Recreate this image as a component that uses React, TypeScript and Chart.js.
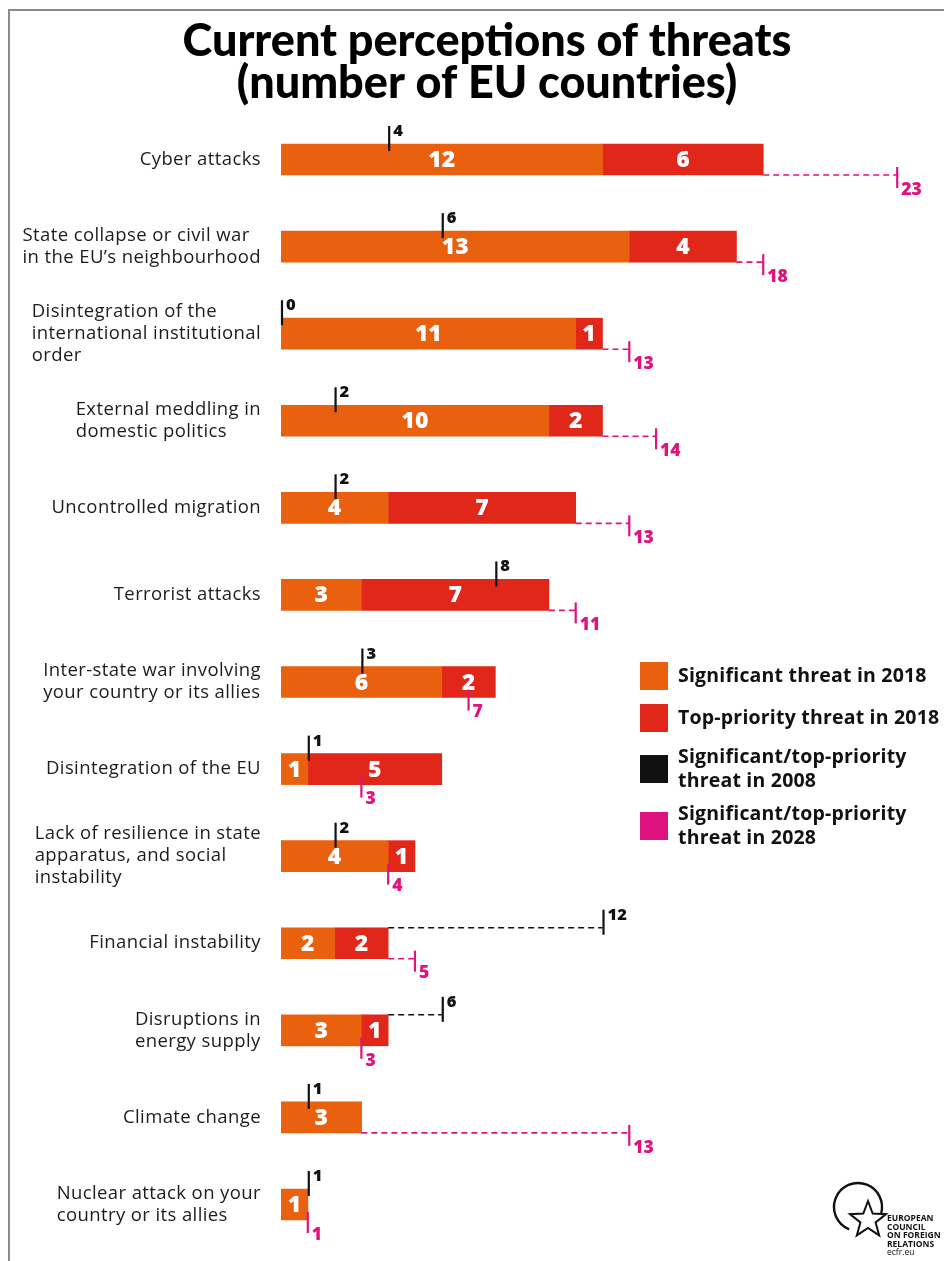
import React, { useEffect, useRef } from "react";
import { Chart, registerables } from "chart.js";
Chart.register(...registerables);

const categories: string[][] = [
  ["Cyber attacks"],
  ["State collapse or civil war", "in the EU’s neighbourhood"],
  ["Disintegration of the", "international institutional", "order"],
  ["External meddling in", "domestic politics"],
  ["Uncontrolled migration"],
  ["Terrorist attacks"],
  ["Inter-state war involving", "your country or its allies"],
  ["Disintegration of the EU"],
  ["Lack of resilience in state", "apparatus, and social", "instability"],
  ["Financial instability"],
  ["Disruptions in", "energy supply"],
  ["Climate change"],
  ["Nuclear attack on your", "country or its allies"],
];
const significant2018 = [12, 13, 11, 10, 4, 3, 6, 1, 4, 2, 3, 3, 1];
const topPriority2018 = [6, 4, 1, 2, 7, 7, 2, 5, 1, 2, 1, 0, 0];
const threat2008 = [4, 6, 0, 2, 2, 8, 3, 1, 2, 12, 6, 1, 1];
const threat2028 = [23, 18, 13, 14, 13, 11, 7, 3, 4, 5, 3, 13, 1];

const titleLines = ["Current perceptions of threats", "(number of EU countries)"];
const legendLabels: string[][] = [
  ["Significant threat in 2018"],
  ["Top-priority threat in 2018"],
  ["Significant/top-priority", "threat in 2008"],
  ["Significant/top-priority", "threat in 2028"],
];
const logoLines = ["EUROPEAN", "COUNCIL", "ON FOREIGN", "RELATIONS"];

const ORANGE = "#E9600F";
const RED = "#E1261A";
const BLACK = "#111111";
const MAGENTA = "#E0127F";
const legendColors = [ORANGE, RED, BLACK, MAGENTA];

const BAR_T = 31;

const overlayPlugin = {
  id: "overlay",
  beforeDraw(chart: any) {
    const ctx = chart.ctx;
    ctx.save();
    ctx.fillStyle = "#ffffff";
    ctx.fillRect(0, 0, chart.width, chart.height);
    ctx.strokeStyle = "#8a8a8a";
    ctx.lineWidth = 2;
    ctx.beginPath();
    ctx.moveTo(9, chart.height);
    ctx.lineTo(9, 10);
    ctx.lineTo(chart.width, 10);
    ctx.stroke();

    // title
    ctx.fillStyle = "#000";
    ctx.font = '900 45px "Lato"';
    ctx.textAlign = "center";
    ctx.textBaseline = "alphabetic";
    ctx.fillText(titleLines[0], 487, 56);
    ctx.fillText(titleLines[1], 487, 98);
    ctx.restore();
  },
  afterDatasetsDraw(chart: any) {
    const ctx = chart.ctx;
    const xs = chart.scales.x;
    const ys = chart.scales.y;
    ctx.save();

    // category labels (left-aligned block, right-aligned to axis)
    ctx.font = '18.5px "Open Sans"';
    (ctx as any).letterSpacing = "0.4px";
    ctx.fillStyle = "#1c1c1c";
    ctx.textBaseline = "middle";
    ctx.textAlign = "left";
    const lineH = 22;
    categories.forEach((lines, i) => {
      const y = ys.getPixelForValue(i);
      const maxW = Math.max(...lines.map((l) => ctx.measureText(l).width));
      const x0 = chart.chartArea.left - 20 - maxW;
      const y0 = y - ((lines.length - 1) * lineH) / 2;
      lines.forEach((l, k) => ctx.fillText(l, x0, y0 + k * lineH));
    });
    (ctx as any).letterSpacing = "0px";

    // values inside bars
    ctx.font = '800 23px "Open Sans"';
    ctx.fillStyle = "#ffffff";
    ctx.textAlign = "center";
    [0, 1].forEach((d) => {
      const meta = chart.getDatasetMeta(d);
      const vals = chart.data.datasets[d].data as number[];
      meta.data.forEach((el: any, i: number) => {
        if (!vals[i]) return;
        ctx.fillText(String(vals[i]), (el.x + el.base) / 2, el.y + 1);
      });
    });

    // 2008 and 2028 markers
    categories.forEach((_, i) => {
      const y = ys.getPixelForValue(i);
      const top = y - BAR_T / 2;
      const bottom = y + BAR_T / 2;
      const total = significant2018[i] + topPriority2018[i];
      const xTot = xs.getPixelForValue(total);

      // 2028 (magenta)
      const x28 = xs.getPixelForValue(threat2028[i]);
      ctx.strokeStyle = MAGENTA;
      if (threat2028[i] > total) {
        ctx.lineWidth = 1.6;
        ctx.setLineDash([6, 4]);
        ctx.beginPath();
        ctx.moveTo(xTot, bottom);
        ctx.lineTo(x28, bottom);
        ctx.stroke();
        ctx.setLineDash([]);
      }
      ctx.lineWidth = 2.2;
      ctx.beginPath();
      ctx.moveTo(x28, bottom - 8);
      ctx.lineTo(x28, bottom + 13);
      ctx.stroke();
      ctx.fillStyle = MAGENTA;
      ctx.font = '800 17.5px "Open Sans"';
      ctx.textAlign = "left";
      ctx.textBaseline = "top";
      ctx.fillText(String(threat2028[i]), x28 + 4, bottom + 6);

      // 2008 (black)
      const x08 = xs.getPixelForValue(threat2008[i]);
      ctx.strokeStyle = BLACK;
      if (threat2008[i] > total) {
        ctx.lineWidth = 1.6;
        ctx.setLineDash([6, 4]);
        ctx.beginPath();
        ctx.moveTo(xTot, top);
        ctx.lineTo(x08, top);
        ctx.stroke();
        ctx.setLineDash([]);
      }
      ctx.lineWidth = 2.2;
      ctx.beginPath();
      ctx.moveTo(x08 + 1, top - 18);
      ctx.lineTo(x08 + 1, top + 7);
      ctx.stroke();
      ctx.fillStyle = BLACK;
      ctx.font = '800 16.5px "Open Sans"';
      ctx.textBaseline = "alphabetic";
      ctx.fillText(String(threat2008[i]), x08 + 5, top - 8);
    });

    // legend
    const lx = 640;
    const ly = [662, 704, 755, 812];
    ctx.font = 'bold 19.5px "Open Sans"';
    (ctx as any).letterSpacing = "0.2px";
    ctx.textAlign = "left";
    ctx.textBaseline = "middle";
    legendLabels.forEach((lines, k) => {
      ctx.fillStyle = legendColors[k];
      ctx.fillRect(lx, ly[k], 28, 28);
      ctx.fillStyle = "#111111";
      const cy = ly[k] + 14;
      const y0 = cy - ((lines.length - 1) * 24) / 2;
      lines.forEach((l, j) => ctx.fillText(l, lx + 38, y0 + j * 24));
    });
    (ctx as any).letterSpacing = "0px";

    // logo
    ctx.strokeStyle = "#111";
    ctx.lineWidth = 2.4;
    ctx.beginPath();
    ctx.arc(858, 1207, 24, 0.62 * Math.PI, 2.08 * Math.PI);
    ctx.stroke();
    const sx = 868, sy = 1220, ro = 19, ri = 8;
    ctx.beginPath();
    for (let p = 0; p < 10; p++) {
      const r = p % 2 === 0 ? ro : ri;
      const a = -Math.PI / 2 + (p * Math.PI) / 5;
      const px = sx + r * Math.cos(a);
      const py = sy + r * Math.sin(a);
      if (p === 0) ctx.moveTo(px, py);
      else ctx.lineTo(px, py);
    }
    ctx.closePath();
    ctx.fillStyle = "#fff";
    ctx.fill();
    ctx.lineWidth = 2;
    ctx.stroke();
    ctx.fillStyle = "#111";
    ctx.font = 'bold 8.5px "Open Sans"';
    ctx.textBaseline = "alphabetic";
    logoLines.forEach((l, j) => ctx.fillText(l, 887, 1221 + j * 8.5));
    ctx.font = '8.5px "Open Sans"';
    ctx.fillText("ecfr.eu", 887, 1255);

    ctx.restore();
  },
};

export default function App() {
  const ref = useRef<HTMLCanvasElement | null>(null);
  useEffect(() => {
    document.body.style.margin = "0";
    document.body.style.overflow = "hidden";
    if (!ref.current) return;
    const chart = new Chart(ref.current, {
      type: "bar",
      data: {
        labels: categories.map((c) => c.join(" ")),
        datasets: [
          {
            label: legendLabels[0].join(" "),
            data: significant2018,
            backgroundColor: ORANGE,
            barThickness: BAR_T,
          },
          {
            label: legendLabels[1].join(" "),
            data: topPriority2018,
            backgroundColor: RED,
            barThickness: BAR_T,
          },
        ],
      },
      options: {
        indexAxis: "y",
        animation: false,
        responsive: true,
        maintainAspectRatio: false,
        layout: { padding: { left: 281, right: 20, top: 116, bottom: 13 } },
        scales: {
          x: { stacked: true, min: 0, max: 24, display: false },
          y: { stacked: true, display: false },
        },
        plugins: {
          legend: { display: false },
          tooltip: { enabled: false },
          title: { display: false },
        },
      },
      plugins: [overlayPlugin],
    });
    return () => chart.destroy();
  }, []);
  return (
    <div style={{ width: 944, height: 1261, position: "relative" }}>
      <canvas ref={ref} />
    </div>
  );
}
